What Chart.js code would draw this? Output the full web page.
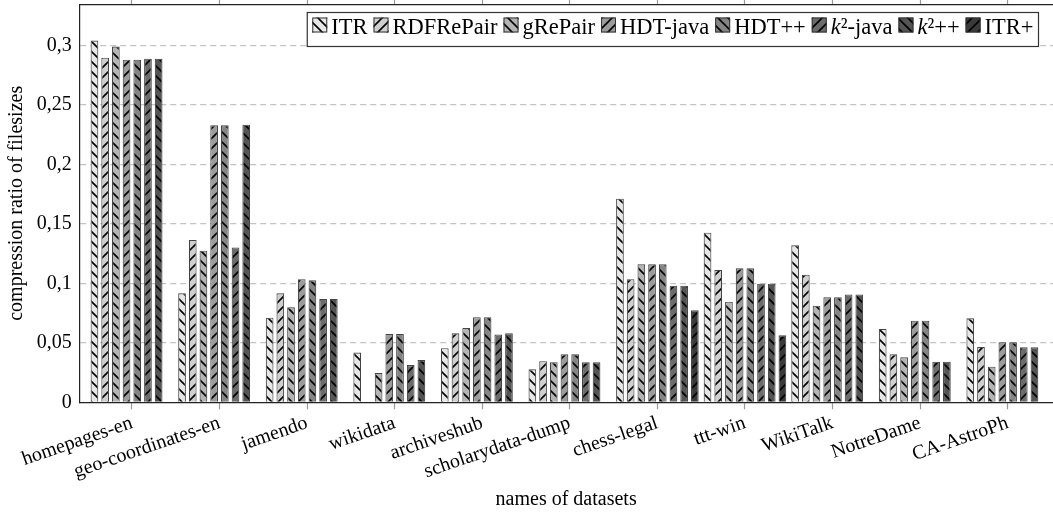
<!DOCTYPE html>
<html><head><meta charset="utf-8">
<script src="https://cdn.jsdelivr.net/npm/chart.js@4.4.1/dist/chart.umd.min.js"></script>
<style>html,body{margin:0;padding:0;background:#fff;overflow:hidden}</style>
</head><body>
<canvas id="c" width="1053" height="512"></canvas>
<script>
const categories = ['homepages-en','geo-coordinates-en','jamendo','wikidata','archiveshub','scholarydata-dump','chess-legal','ttt-win','WikiTalk','NotreDame','CA-AstroPh'];
const seriesNames = ['ITR','RDFRePair','gRePair','HDT-java','HDT++','k²-java','k²++','ITR+'];
const itr       = [0.304, 0.0916, 0.0711, 0.0418, 0.0455, 0.0277, 0.1711, 0.1425, 0.1319, 0.0616, 0.0706];
const rdfRePair = [0.2896, 0.1364, 0.0916, null, 0.058, 0.0345, 0.1034, 0.1112, 0.1073, 0.0403, 0.0465];
const gRePair   = [0.299, 0.1274, 0.0798, 0.0247, 0.0625, 0.0336, 0.116, 0.0845, 0.0812, 0.0378, 0.0299];
const hdtJava   = [0.288, 0.2328, 0.1034, 0.0574, 0.0715, 0.0403, 0.116, 0.1126, 0.0882, 0.0686, 0.0504];
const hdtPP     = [0.288, 0.2328, 0.1025, 0.0574, 0.0715, 0.0403, 0.116, 0.1126, 0.0882, 0.0686, 0.0504];
const k2Java    = [0.2888, 0.1302, 0.0868, 0.0313, 0.057, 0.0336, 0.098, 0.0997, 0.0907, 0.0341, 0.0462];
const k2PP      = [0.2888, 0.2333, 0.0868, 0.0355, 0.058, 0.0336, 0.098, 0.0997, 0.0907, 0.0341, 0.0462];
const itrPlus   = [null, null, null, null, null, null, 0.0773, 0.0563, null, null, null];
const yTickValues = [0, 0.05, 0.1, 0.15, 0.2, 0.25, 0.3];

const seriesValues = [itr, rdfRePair, gRePair, hdtJava, hdtPP, k2Java, k2PP, itrPlus];
const fillColors = ['#e6e6e6','#cfcfcf','#b4b4b4','#9b9b9b','#848484','#6b6b6b','#545454','#3a3a3a'];
const hatchDirs = ['nw','ne','nw','ne','nw','ne','nw','ne'];

const canvas = document.getElementById('c');
const mainCtx = canvas.getContext('2d');
const FONT = '"Liberation Serif", "Times New Roman", serif';

function makePattern(color, dir) {
  const s = 10;
  const c = document.createElement('canvas');
  c.width = s; c.height = s;
  const g = c.getContext('2d');
  g.fillStyle = color; g.fillRect(0, 0, s, s);
  g.strokeStyle = '#000'; g.lineWidth = 1.6; g.lineCap = 'butt';
  g.beginPath();
  if (dir === 'nw') {
    g.moveTo(-2, -2); g.lineTo(s + 2, s + 2);
    g.moveTo(-2, s - 2); g.lineTo(2, s + 2);
    g.moveTo(s - 2, -2); g.lineTo(s + 2, 2);
  } else {
    g.moveTo(-2, s + 2); g.lineTo(s + 2, -2);
    g.moveTo(-2, 2); g.lineTo(2, -2);
    g.moveTo(s - 2, s + 2); g.lineTo(s + 2, s - 2);
  }
  g.stroke();
  return mainCtx.createPattern(c, 'repeat');
}

const datasets = seriesNames.map((name, k) => ({
  label: name,
  data: seriesValues[k].map((v, i) => ({x: i, y: v})),
  backgroundColor: makePattern(fillColors[k], hatchDirs[k]),
  borderColor: '#444',
  borderWidth: 1.1,
  borderSkipped: 'bottom',
  categoryPercentage: 0.977,
  barPercentage: 0.72
}));

const X_MIN = -0.6006, X_MAX = 10.517;

function noPad(s) { s.paddingLeft = 0; s.paddingRight = 0; s.paddingTop = 0; s.paddingBottom = 0; }

const boxLegend = {
  id: 'boxLegend',
  afterDraw(chart) {
    const ctx = chart.ctx;
    const f = '22.5px ' + FONT, fi = 'italic 22.5px ' + FONT;
    const icon = 15, gapIT = 4, gapTI = 6, pad = 5;
    const items = chart.data.datasets.map(ds => {
      const parts = ds.label.startsWith('k') ? [{t: 'k', it: true}, {t: ds.label.slice(1), it: false}] : [{t: ds.label, it: false}];
      let w = 0;
      parts.forEach(p => { ctx.font = p.it ? fi : f; p.w = ctx.measureText(p.t).width; w += p.w; });
      return {ds, parts, w};
    });
    const total = pad * 2 + items.reduce((a, it) => a + icon + gapIT + it.w, 0) + gapTI * (items.length - 1);
    const right = 1038.5, top = 12.5, h = 34;
    const left = right - total;
    ctx.save();
    ctx.fillStyle = '#fff';
    ctx.fillRect(left, top, total, h);
    ctx.strokeStyle = '#333'; ctx.lineWidth = 1.2;
    ctx.strokeRect(left, top, total, h);
    let x = left + pad;
    const iconTop = top + 5, baseY = top + 21;
    items.forEach(it => {
      ctx.fillStyle = it.ds.backgroundColor;
      ctx.fillRect(x, iconTop, icon, icon);
      ctx.strokeStyle = '#333'; ctx.lineWidth = 1;
      ctx.strokeRect(x + 0.5, iconTop + 0.5, icon - 1, icon - 1);
      x += icon + gapIT;
      ctx.fillStyle = '#000'; ctx.textBaseline = 'alphabetic'; ctx.textAlign = 'left';
      it.parts.forEach(p => { ctx.font = p.it ? fi : f; ctx.fillText(p.t, x, baseY); x += p.w; });
      x += gapTI;
    });
    ctx.restore();
  }
};

new Chart(canvas, {
  type: 'bar',
  data: { datasets },
  plugins: [boxLegend],
  options: {
    responsive: false,
    animation: false,
    layout: { padding: 0 },
    plugins: { legend: { display: false }, tooltip: { enabled: false } },
    scales: {
      x: {
        type: 'linear', position: 'bottom', min: X_MIN, max: X_MAX, offset: false,
        afterBuildTicks: s => { s.ticks = categories.map((_, i) => ({value: i})); },
        afterFit: s => { s.height = 109.7; noPad(s); },
        ticks: {
          autoSkip: false, minRotation: 19, maxRotation: 19, padding: 2,
          font: { family: FONT, size: 20 }, color: '#000',
          callback: v => categories[v]
        },
        grid: { offset: false, drawOnChartArea: false, drawTicks: true, tickLength: 7, tickColor: '#999', tickWidth: 1.2 },
        border: { display: true, color: '#222', width: 1.2 },
        title: { display: true, text: 'names of datasets', color: '#000', font: { family: FONT, size: 20 }, padding: { top: 0, bottom: 0 } }
      },
      xTop: {
        type: 'linear', position: 'top', min: X_MIN, max: X_MAX, offset: false,
        afterBuildTicks: s => { s.ticks = categories.map((_, i) => ({value: i})); },
        afterFit: s => { s.height = 4.3; noPad(s); },
        ticks: { display: false },
        grid: { offset: false, drawOnChartArea: false, drawTicks: true, tickLength: 4.3, tickColor: '#999', tickWidth: 1.2 },
        border: { display: true, color: '#222', width: 1.2 }
      },
      y: {
        type: 'linear', min: 0, max: 0.3345,
        afterBuildTicks: s => { s.ticks = yTickValues.map(v => ({value: v})); },
        afterFit: s => { s.width = 79.3; noPad(s); },
        ticks: {
          padding: 7.5, color: '#000', font: { family: FONT, size: 20 },
          callback: v => v === 0 ? '0' : String(+v.toFixed(2)).replace('.', ',')
        },
        grid: { drawTicks: false, color: ctx => ctx.tick && ctx.tick.value === 0 ? 'rgba(0,0,0,0)' : '#c4c4c4', lineWidth: 1.2 },
        border: { display: true, color: '#222', width: 1.2, dash: [6, 4] },
        title: { display: true, text: 'compression ratio of filesizes', color: '#000', font: { family: FONT, size: 20 }, padding: { top: 5, bottom: 0 } }
      }
    }
  }
});
</script>
</body></html>
